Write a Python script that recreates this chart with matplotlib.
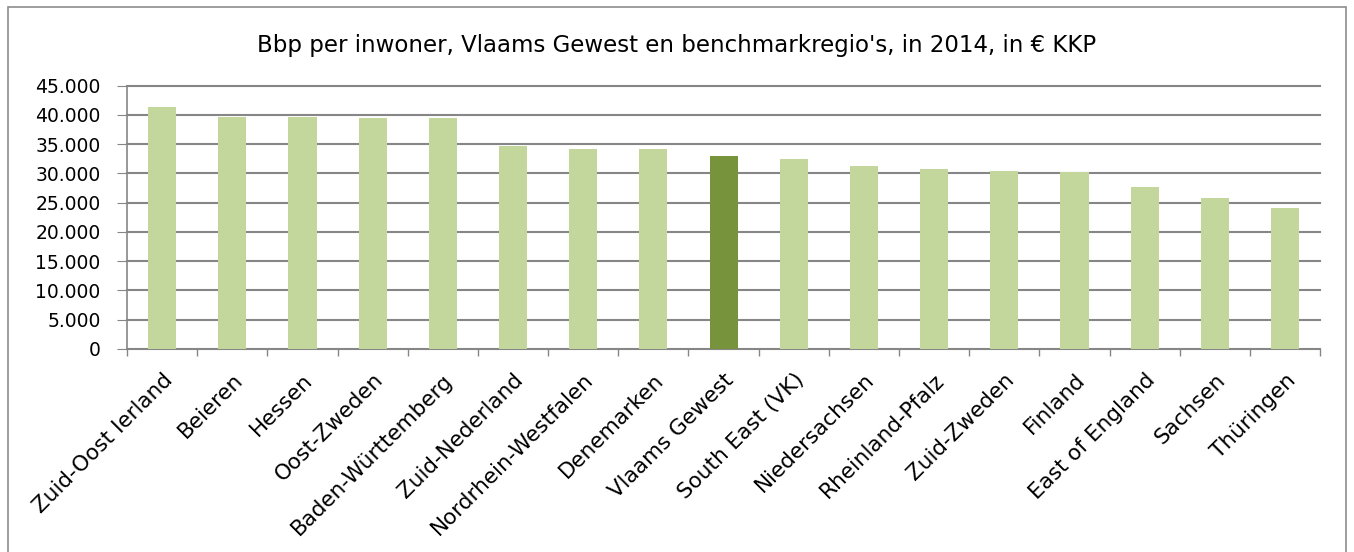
import matplotlib.pyplot as plt
import numpy as np
from matplotlib.patches import Rectangle
from matplotlib.ticker import FuncFormatter

regions = ['Zuid-Oost Ierland', 'Beieren', 'Hessen', 'Oost-Zweden', 'Baden-Württemberg',
           'Zuid-Nederland', 'Nordrhein-Westfalen', 'Denemarken', 'Vlaams Gewest',
           'South East (VK)', 'Niedersachsen', 'Rheinland-Pfalz', 'Zuid-Zweden',
           'Finland', 'East of England', 'Sachsen', 'Thüringen']
bbp = [41300, 39700, 39700, 39500, 39500, 34700, 34200, 34200, 32900,
       32400, 31300, 30700, 30400, 30250, 27650, 25850, 24150]
highlight = 'Vlaams Gewest'

light = '#C3D69B'
dark = '#77933C'
grid_col = '#868686'

plt.rcParams['font.family'] = ['DejaVu Sans']

fig = plt.figure(figsize=(13.54, 5.52), dpi=100)
ax = fig.add_axes([0.0938, 0.368, 0.8812, 0.477])

x = np.arange(len(regions))
colors = [dark if r == highlight else light for r in regions]
ax.bar(x, bbp, width=0.4, color=colors, zorder=3)

ax.set_xlim(-0.5, len(regions) - 0.5)
ax.set_ylim(0, 45000)
ax.set_yticks(np.arange(0, 45001, 5000))
ax.yaxis.set_major_formatter(FuncFormatter(lambda v, p: f'{int(v):,}'.replace(',', '.')))
ax.yaxis.grid(True, color=grid_col, linewidth=1.5, zorder=0)
ax.tick_params(axis='y', length=7, color=grid_col, labelsize=13.5, pad=12)
for gl in ax.get_ygridlines():
    gl.set_clip_on(False)

ax.set_xticks(x)
ax.set_xticklabels(regions, rotation=45, ha='right', rotation_mode='anchor', fontsize=15.5)
ax.tick_params(axis='x', which='major', length=0, pad=15)
ax.set_xticks(np.arange(-0.5, len(regions), 1.0), minor=True)
ax.tick_params(axis='x', which='minor', length=5, color=grid_col, width=1)

for s in ['top', 'right']:
    ax.spines[s].set_visible(False)
for s in ['left', 'bottom']:
    ax.spines[s].set_color(grid_col)
    ax.spines[s].set_linewidth(1.2)

fig.text(0.5, 0.918, "Bbp per inwoner, Vlaams Gewest en benchmarkregio's, in 2014, in € KKP",
         ha='center', va='center', fontsize=16.5)

# chart border
fig.patches.append(Rectangle((0.006, -0.01), 0.988, 0.997, transform=fig.transFigure,
                             fill=False, edgecolor='#8C8C8C', linewidth=1.2))

fig.savefig('out.png', dpi=100)
